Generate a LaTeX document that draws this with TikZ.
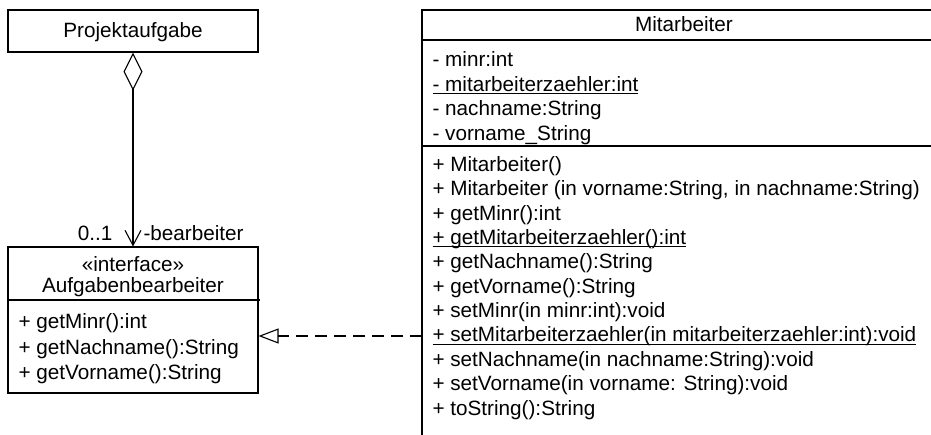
\documentclass[tikz,border=0pt]{standalone}
\usepackage{fontspec}
\setmainfont{Liberation Sans}
\usetikzlibrary{arrows.meta}
\newcommand\umlul[1]{\setbox0\hbox{#1}\rlap{\rule[-2.5pt]{\wd0}{0.9pt}}\box0}

\begin{document}
\begin{tikzpicture}[x=1pt,y=-1pt,line width=1.1pt,
    umltext/.style={font=\fontsize{20.7}{24}\selectfont},
    member/.style={umltext,anchor=base west,inner sep=0pt},
    classbox/.style={draw,minimum width=250pt,inner sep=0pt},
    aggr/.style={{Diamond[open,length=38pt,width=19pt]}-{Straight Barb[length=15pt,width=16pt]}},
    realize/.style={dash pattern=on 12pt off 7pt,-{Triangle[open,length=20pt,width=15pt]}}]
  \useasboundingbox (0,0) rectangle (931,435);

  % Projektaufgabe
  \node[classbox,minimum height=42pt] (proj) at (133,31) {};
  \node[umltext,anchor=base] (projname) at (133,38) {Projektaufgabe};

  % interface Aufgabenbearbeiter
  \node[classbox,minimum height=146pt] (abox) at (133,320) {};
  \node[umltext,anchor=base] (stereo) at (133,272) {«interface»};
  \node[umltext,anchor=base] (aname) at (133,293) {Aufgabenbearbeiter};
  \draw (8,300) -- (260,300);
  \foreach \t [count=\i from 0] in {+ getMinr():int,+ getNachname():String,+ getVorname():String}
  {
    \node[member] (aop\i) at (18,329+25*\i) {\t};
  }

  % Mitarbeiter (cut at the right and at the bottom)
  \draw (931,10) -- (422,10) -- (422,435);
  \draw (422,40) -- (931,40);
  \draw (422,146) -- (931,146);
  \node[umltext,anchor=base] (mname) at (684,32) {Mitarbeiter};
  \coordinate (mleft) at (422,336);
  \foreach \t [count=\i from 0] in {- minr:int,\umlul{- mitarbeiterzaehler:int},
                                    - nachname:String,- vorname\_String}
  {
    \node[member] (attr\i) at (432,67+24.35*\i) {\t};
  }
  \foreach \t [count=\i from 0] in {+ Mitarbeiter(),
      {+ Mitarbeiter (in vorname:String, in nachname:String)},
      + getMinr():int,\umlul{+ getMitarbeiterzaehler():int},
      + getNachname():String,+ getVorname():String,
      + setMinr(in minr:int):void,
      \umlul{+ setMitarbeiterzaehler(in mitarbeiterzaehler:int):void},
      + setNachname(in nachname:String):void,
      + setVorname(in vorname: String):void,+ toString():String}
  {
    \node[member] (op\i) at (432,171.5+24.35*\i) {\t};
  }

  % connectors
  \draw[aggr] (proj.south) -- (abox.north);
  \node[umltext,anchor=base east,inner sep=0pt] (mult) at (113,241) {0..1};
  \node[umltext,anchor=base west,inner sep=0pt] (role) at (143,241) {-bearbeiter};
  \draw[realize] (mleft) -- (abox.east |- mleft);
\end{tikzpicture}
\end{document}
